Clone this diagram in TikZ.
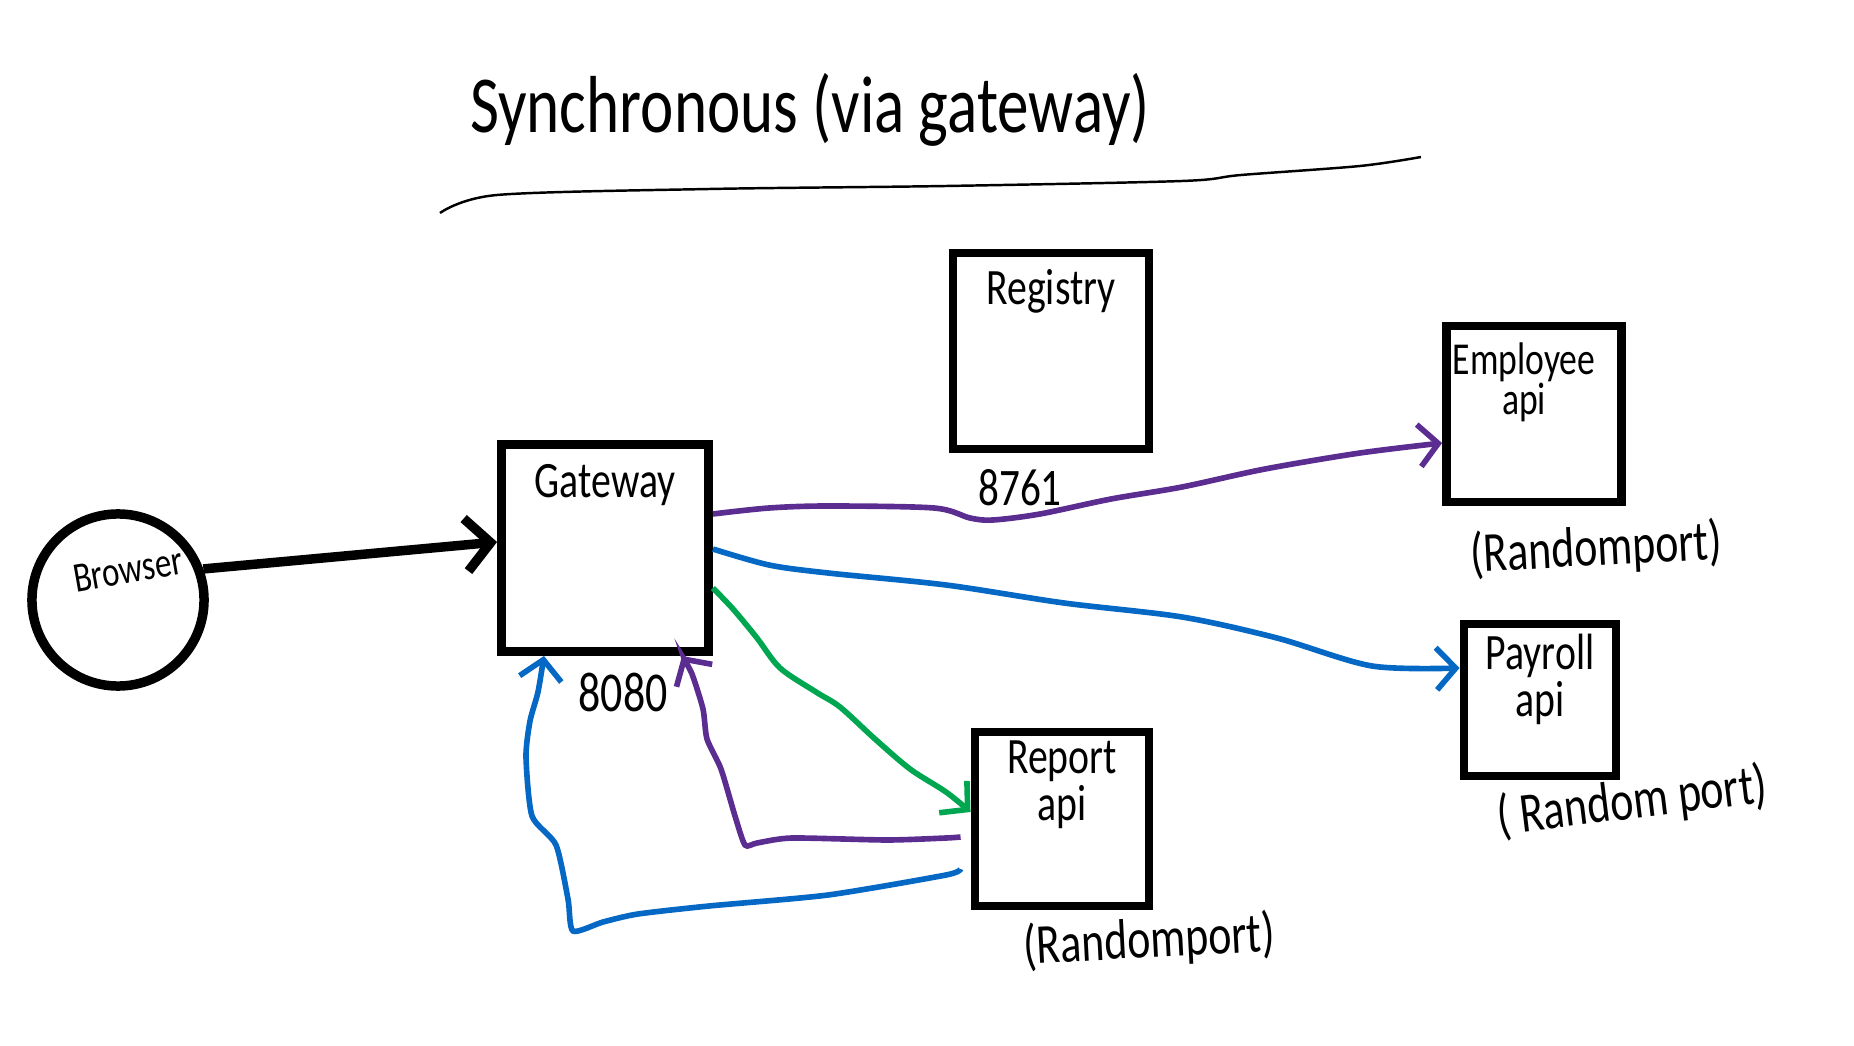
\documentclass[tikz,border=0pt]{standalone}
\usepackage{fontspec}
\setmainfont{Carlito}[FakeStretch=0.78]
\usepackage{tikz}
\usetikzlibrary{
  arrows.meta,
  positioning,
  calc
}
\definecolor{penpurple}{RGB}{92,45,145}
\definecolor{penblue}{RGB}{5,104,196}
\definecolor{pengreen}{RGB}{0,166,80}
\tikzset{>={Straight Barb[length=5.5pt,width=12pt]}}
\tikzset{line cap=round, line join=round}
\tikzset{
  box/.style={draw, line width=2.5pt, inner sep=0pt},
  boxtext/.style={font=\fontsize{14.5}{11.5}\selectfont, align=center, inner sep=0pt},
  port/.style={font=\fontsize{16}{18}\selectfont, inner sep=0pt},
  flow/.style={line width=1.6pt, ->},
}

\begin{document}
\begin{tikzpicture}[x=0.01cm, y=-0.01cm]
  \useasboundingbox (0,0) rectangle (1854,1046);
  % title and its underline
  \node[font=\fontsize{23}{27}\selectfont] (title) at (810,110) {Synchronous (via gateway)};
  \draw[line width=0.7pt] plot[smooth] coordinates {(440,213) (497,195) (709,189) (946,186) (1182,181) (1241,175) (1360,166) (1421,157)};

  % services
  \node[circle, draw, line width=2.7pt, minimum size=1.72cm] (browser) at (118,600) {};
  \node[box, minimum width=2.07cm, minimum height=2.07cm] (gateway) at (605,548) {};
  \node[box, minimum width=1.96cm, minimum height=1.96cm] (registry) at (1051,351) {};
  \node[box, minimum width=1.75cm, minimum height=1.76cm] (employee) at (1534,414) {};
  \node[box, minimum width=1.52cm, minimum height=1.52cm] (payroll) at (1540,700) {};
  \node[box, minimum width=1.74cm, minimum height=1.74cm] (report) at (1062,819) {};

  % labels inside
  \node[font=\fontsize{12}{14}\selectfont, rotate=10] (browserlbl) at ([xshift=0.10cm, yshift=0.30cm]browser.center) {Browser};
  \node[boxtext, below=0.24cm of gateway.north] (gatewaylbl) {Gateway};
  \node[boxtext, below=0.20cm of registry.north] (registrylbl) {Registry};
  \node[boxtext, font=\fontsize{13}{11.5}\selectfont, below=0.20cm of employee.north, xshift=-0.10cm] (employeelbl) {Employee\\api};
  \node[boxtext, below=0.14cm of payroll.north] (payrolllbl) {Payroll\\api};
  \node[boxtext, below=0.13cm of report.north] (reportlbl) {Report\\api};

  % ports
  \node[port] (gatewayport) at ([xshift=0.18cm, yshift=-0.37cm]gateway.south) {8080};
  \node[port, font=\fontsize{15}{17}\selectfont] (registryport) at ([xshift=-0.31cm, yshift=-0.34cm]registry.south) {8761};
  \node[port, rotate=3] (employeeport) at ([xshift=0.62cm, yshift=-0.43cm]employee.south) {(Randomport)};
  \node[port, rotate=7] (payrollport) at ([xshift=0.92cm, yshift=-0.22cm]payroll.south) {( Random port)};
  \node[port, rotate=3] (reportport) at ([xshift=0.87cm, yshift=-0.31cm]report.south) {(Randomport)};

  % calls
  \draw[line width=2.7pt, -{Straight Barb[length=7pt,width=15pt]}] (browser.20) -- ([yshift=0.06cm]gateway.west);
  \draw[flow, penpurple] plot[smooth] coordinates {([yshift=0.34cm]gateway.east) (769,508) (828,506) (934,508) (970,518) (993,520) (1040,514) (1111,499) (1182,487) (1265,469) (1360,453) ([yshift=-0.29cm]employee.west)};
  \draw[flow, penblue] plot[smooth] coordinates {([yshift=-0.01cm]gateway.east) (769,565) (828,573) (946,585) (1064,603) (1182,617) (1277,638) (1372,666) ([yshift=0.32cm]payroll.west)};
  \draw[flow, pengreen] plot[smooth] coordinates {([yshift=-0.40cm]gateway.east) (733,609) (757,638) (780,668) (816,692) (840,707) (875,739) (910,769) (946,792) ([yshift=0.07cm]report.west)};
  % replies
  \draw[flow, penpurple] plot[smooth, tension=0.4] coordinates {([xshift=-0.1cm, yshift=-0.18cm]report.west) (946,838) (887,840) (792,838) (757,843) (745,845) (735,816) (721,769) (707,739) (703,709) (692,674) ([xshift=0.77cm]gateway.south)};
  \draw[flow, penblue] plot[smooth, tension=0.4] coordinates {([xshift=-0.1cm, yshift=-0.5cm]report.west) (946,875) (828,895) (709,906) (638,914) (603,922) (573,931) (568,899) (556,845) (532,816) (526,757) (530,721) (538,692) ([xshift=-0.61cm]gateway.south)};
\end{tikzpicture}
\end{document}
